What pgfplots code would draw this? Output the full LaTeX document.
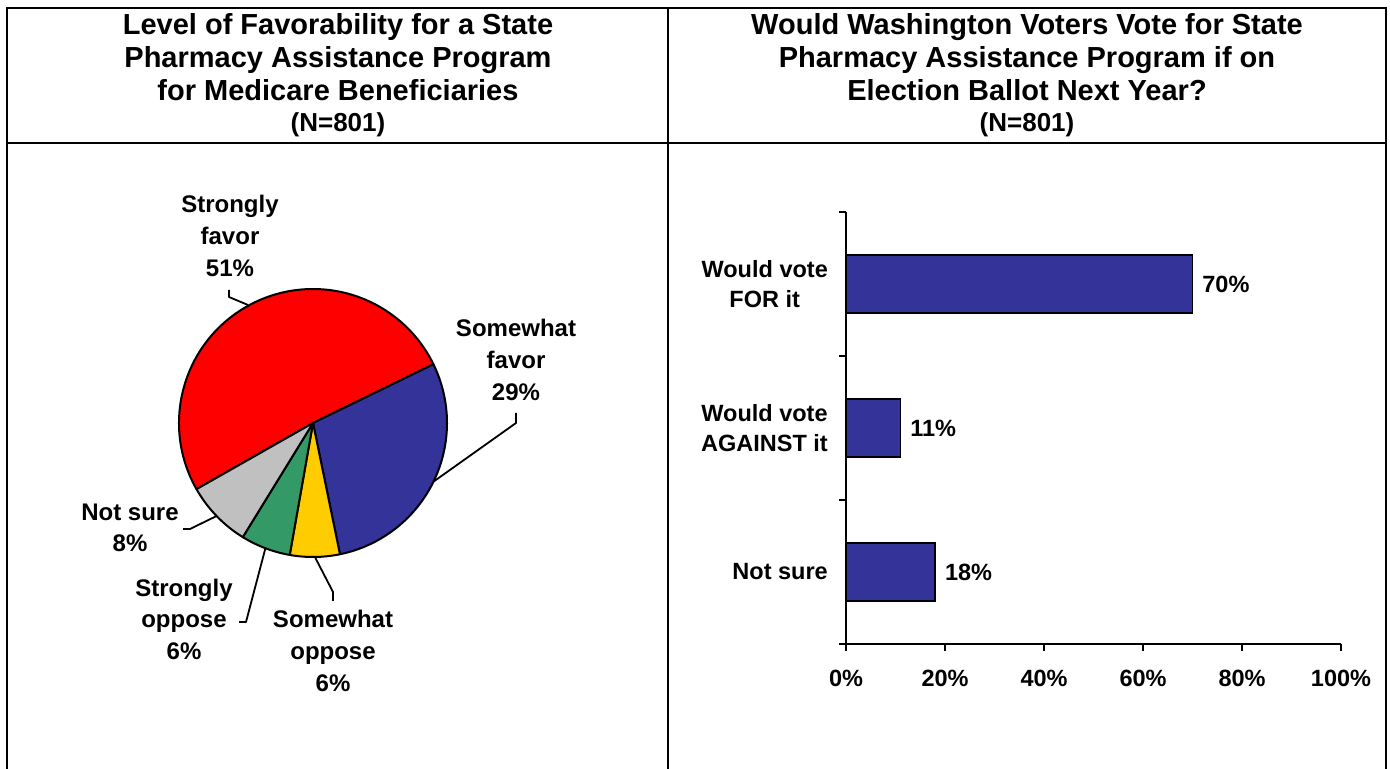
\documentclass[border=0pt]{standalone}
\usepackage{fontspec}
\setmainfont{Liberation Sans}
\usepackage{pgfplots}
\usepackage{pgfplotstable}
\pgfplotsset{compat=1.18}
\definecolor{piered}{HTML}{FF0000}
\definecolor{pieblue}{HTML}{333399}
\definecolor{pieyellow}{HTML}{FFCC00}
\definecolor{piegreen}{HTML}{339966}
\definecolor{piegrey}{HTML}{C0C0C0}
\newcommand\titlefont{\bfseries\fontsize{29bp}{33bp}\selectfont}
\newcommand\nfont{\bfseries\fontsize{26bp}{30bp}\selectfont}
\newcommand\piefont{\bfseries\fontsize{24bp}{32bp}\selectfont}
\newcommand\barfont{\bfseries\fontsize{23.5bp}{30bp}\selectfont}
\newcommand\lbl[4][\piefont]{\node[anchor=base, inner sep=0pt, font=#1] at (#2,#3) {#4};}

\pgfplotstableread{
slice value color
StronglyFavor 51 piered
SomewhatFavor 29 pieblue
SomewhatOppose 6 pieyellow
StronglyOppose 6 piegreen
NotSure 8 piegrey
}\piedata

\pgfplotstableread{
pos value
2 70
1 11
0 18
}\bardata

\begin{document}
\begin{tikzpicture}[x=1bp,y=1bp]
\useasboundingbox (0,0) rectangle (1390,768);

% ---------- pie chart ----------
\begin{axis}[
  at={(313bp,345bp)}, anchor=center,
  x=1bp, y=1bp,
  xmin=-140, xmax=140, ymin=-140, ymax=140,
  hide axis, clip=false,
]
\addplot[draw=none] coordinates {(0,0)};
\pgfplotsextra{
  \pgfplotstablegetrowsof{\piedata}
  \pgfmathtruncatemacro\nrows{\pgfplotsretval-1}
  \gdef\startangle{209.6}
  \foreach \i in {0,...,\nrows} {
    \pgfplotstablegetelem{\i}{value}\of\piedata \let\slicevalue\pgfplotsretval
    \pgfplotstablegetelem{\i}{color}\of\piedata \let\slicecolor\pgfplotsretval
    \pgfmathsetmacro\endangle{\startangle - 3.6*\slicevalue}
    \filldraw[fill=\slicecolor, draw=black, line width=2bp, line join=round]
      (axis cs:0,0) -- ([shift={(\startangle:134bp)}]axis cs:0,0)
      arc[start angle=\startangle, end angle=\endangle, radius=134bp] -- cycle;
    \xdef\startangle{\endangle}
  }
}
\end{axis}

% ---------- bar chart ----------
\begin{axis}[
  at={(846bp,124bp)}, anchor=south west,
  scale only axis, width=495bp, height=432bp,
  xbar, bar width=57.5bp,
  xmin=0, xmax=100, ymin=-0.5, ymax=2.5,
  axis x line=bottom, axis y line=left,
  axis line style={-, line width=2bp},
  tick align=outside,
  major tick length=7bp,
  tick style={line width=2bp, black},
  xtick={0,20,40,60,80,100},
  xticklabels={0\%,20\%,40\%,60\%,80\%,100\%},
  xticklabel style={font=\barfont, inner sep=0pt, anchor=north, yshift=-19bp},
  ytick={-0.5,0.5,1.5,2.5},
  yticklabel=\empty,
  extra y ticks={0,1,2},
  extra y tick labels={Not sure,{Would vote\\AGAINST it},{Would vote\\FOR it}},
  extra y tick style={major tick length=0pt,
     yticklabel style={font=\barfont, align=center, inner sep=0pt, anchor=east, xshift=-18bp}},
  point meta=x,
  nodes near coords={\pgfmathprintnumber[assume math mode=true]{\pgfplotspointmeta}\%},
  every node near coord/.append style={font=\barfont, anchor=west, inner sep=0pt, xshift=9bp, black},
  clip=false,
]
\addplot[fill=pieblue, draw=black, line width=1.8bp] table[x=value, y=pos] {\bardata};
\end{axis}

% ---------- frame, titles, labels (pixel coordinates, y down) ----------
\begin{scope}[shift={(0,768)}, yscale=-1]
  \draw[line width=2bp] (7,8) -- (1386,8);
  \draw[line width=2bp] (7,143) -- (1386,143);
  \draw[line width=2bp] (7,7) -- (7,790);
  \draw[line width=2bp] (668,7) -- (668,790);
  \draw[line width=2bp] (1386,7) -- (1386,790);

  \lbl[\titlefont]{338}{35}{Level of Favorability for a State}
  \lbl[\titlefont]{338}{68}{Pharmacy Assistance Program}
  \lbl[\titlefont]{338}{101}{for Medicare Beneficiaries}
  \lbl[\nfont]{338}{132}{(N=801)}

  \lbl[\titlefont]{1027}{35}{Would Washington Voters Vote for State}
  \lbl[\titlefont]{1027}{68}{Pharmacy Assistance Program if on}
  \lbl[\titlefont]{1027}{101}{Election Ballot Next Year?}
  \lbl[\nfont]{1027}{132}{(N=801)}

  % pie labels
  \lbl{230}{213}{Strongly}
  \lbl{230}{245}{favor}
  \lbl{230}{277}{51\%}
  \lbl{516}{337}{Somewhat}
  \lbl{516}{369}{favor}
  \lbl{516}{401}{29\%}
  \lbl{130}{521}{Not sure}
  \lbl{130}{552}{8\%}
  \lbl{184}{597}{Strongly}
  \lbl{184}{628}{oppose}
  \lbl{184}{660}{6\%}
  \lbl{333}{628}{Somewhat}
  \lbl{333}{660}{oppose}
  \lbl{333}{692}{6\%}

  % leader lines
  \begin{scope}[line width=1.8bp, line join=round]
    \draw (229,290) -- (229,297) -- (248,305);
    \draw (516,413) -- (516,423) -- (433,482);
    \draw (183,529) -- (190,529) -- (216.6,516);
    \draw (239,622) -- (246,622) -- (265.4,548.3);
    \draw (333,601) -- (333,592) -- (314.9,557);
  \end{scope}
\end{scope}
\end{tikzpicture}
\end{document}
